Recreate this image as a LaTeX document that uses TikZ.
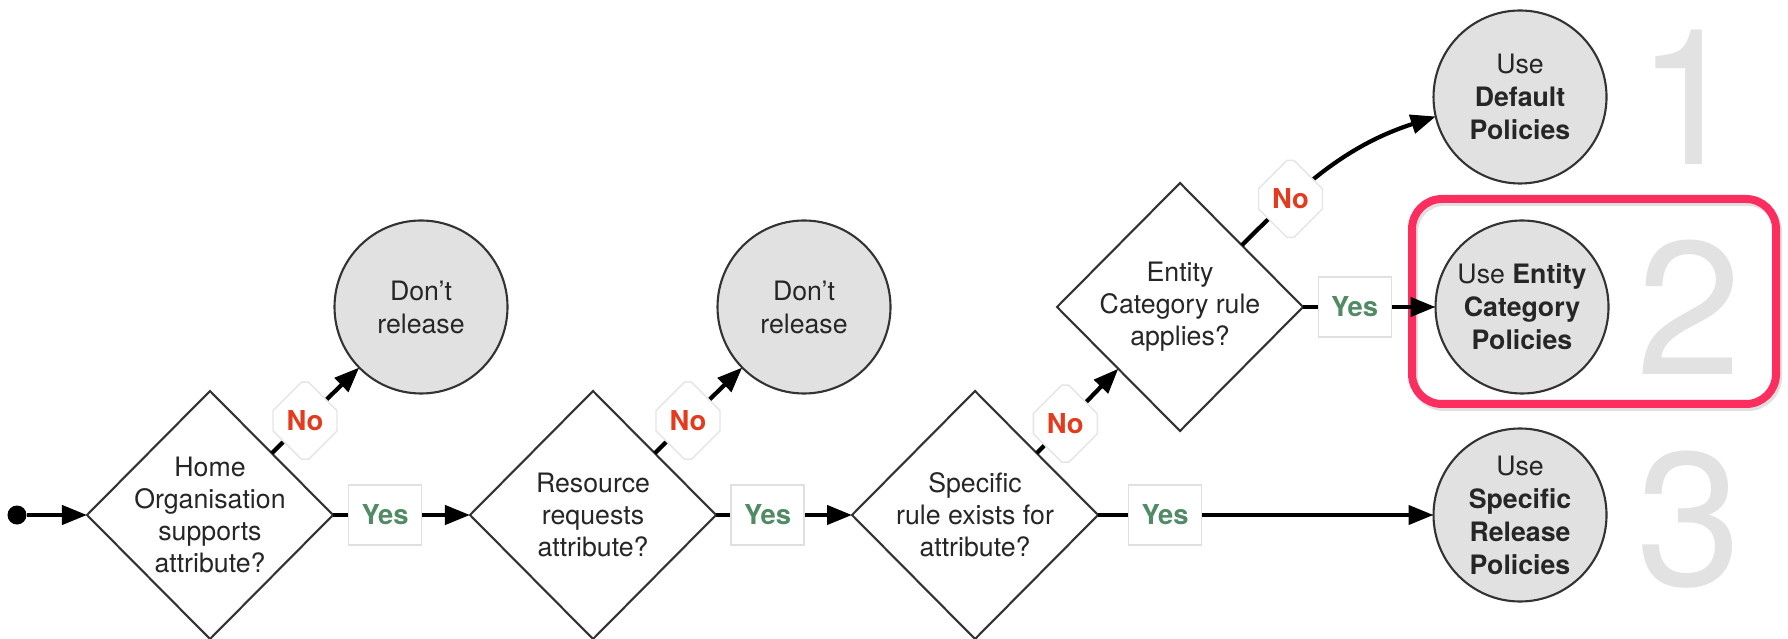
\documentclass[tikz,border=0pt]{standalone}
\usepackage{fontspec}
\setmainfont{TeX Gyre Heros}
\usetikzlibrary{shapes.geometric,shapes.misc,arrows.meta}
\definecolor{yesgreen}{RGB}{80,139,101}
\definecolor{nored}{RGB}{228,58,30}
\definecolor{hilite}{RGB}{252,46,96}
\definecolor{nodegray}{RGB}{225,225,225}
\definecolor{numgray}{RGB}{226,226,226}
\tikzset{
  txt/.style={font=\fontsize{7.6}{9.1}\selectfont, text=black!85, align=center},
  decision/.style={diamond, draw=black!80, line width=0.6pt, fill=white, minimum width=2.46cm, minimum height=2.48cm, inner sep=0pt, outer sep=0pt},
  result/.style={circle, draw=black!80, line width=0.6pt, fill=nodegray, minimum size=1.73cm, inner sep=0pt, outer sep=0pt, txt, font=\fontsize{7.6}{9.4}\selectfont},
  conn/.style={line width=1.2pt, -{Triangle[length=0.25cm,width=0.19cm]}},
  yesbox/.style={rectangle, draw=black!12, fill=white, line width=0.4pt, minimum width=0.73cm, minimum height=0.6cm, inner sep=0pt, text=yesgreen, font=\fontsize{7.8}{9}\selectfont\bfseries},
  nobox/.style={chamfered rectangle, chamfered rectangle xsep=0.1cm, chamfered rectangle ysep=0.19cm, draw=black!10, fill=white, line width=0.4pt, minimum width=0.64cm, minimum height=0.77cm, inner sep=0pt, text=nored, font=\fontsize{7.8}{9}\selectfont\bfseries},
  bignum/.style={anchor=base, text=numgray, font=\fontsize{54}{54}\selectfont}
}
\begin{document}
\begin{tikzpicture}
\useasboundingbox (0,0) rectangle (17.88,6.38);
\draw[line width=0.08cm, black, opacity=0.12, rounded corners=0.3cm] (14.14,2.31) rectangle (17.78,4.36);
\draw[line width=0.08cm, hilite, rounded corners=0.3cm] (14.12,2.34) rectangle (17.76,4.39);
\foreach \n/\y in {1/4.73,2/2.63,3/0.53}
  \node[bignum] (num\n) at (16.89,\y) {\n};

\node[circle, fill=black, minimum size=0.19cm, inner sep=0pt] (start) at (0.17,1.23) {};
\node[decision, label={[txt]center:Home\\Organisation\\supports\\attribute?}] (d1) at (2.10,1.23) {};
\node[decision, label={[txt]center:Resource\\requests\\attribute?}] (d2) at (5.93,1.23) {};
\node[decision, label={[txt]center:Specific\\rule exists for\\attribute?}] (d3) at (9.75,1.23) {};
\node[decision, label={[txt]center:Entity\\Category rule\\applies?}] (d4) at (11.80,3.31) {};

\node[result] (r1) at (4.21,3.31) {Don’t\\release};
\node[result] (r2) at (8.04,3.31) {Don’t\\release};
\node[result] (p1) at (15.20,5.41) {Use\\\textbf{Default}\\\textbf{Policies}};
\node[result] (p2) at (15.22,3.31) {Use \textbf{Entity}\\\textbf{Category}\\\textbf{Policies}};
\node[result] (p3) at (15.20,1.23) {Use\\\textbf{Specific}\\\textbf{Release}\\\textbf{Policies}};

\draw[conn] (start) -- (d1);
\draw[conn] (d1) -- node[yesbox, pos=0.38] (yes1) {Yes} (d2);
\draw[conn] (d2) -- node[yesbox, pos=0.38] (yes2) {Yes} (d3);
\draw[conn] (d3) -- node[yesbox, pos=0.2] (yes3) {Yes} (p3);
\draw[conn] (d4) -- node[yesbox, pos=0.39] (yes4) {Yes} (p2);

\draw[conn] (d1.45) -- node[nobox, pos=0.38] (no1) {No} (r1);
\draw[conn] (d2.45) -- node[nobox, pos=0.38] (no2) {No} (r2);
\draw[conn] (d3.45) -- node[nobox, pos=0.35] (no3) {No} (d4.225);
\draw[conn] (d4.45) to[out=45, in=198] node[nobox, pos=0.27] (no4) {No} (p1.193);
\end{tikzpicture}
\end{document}
